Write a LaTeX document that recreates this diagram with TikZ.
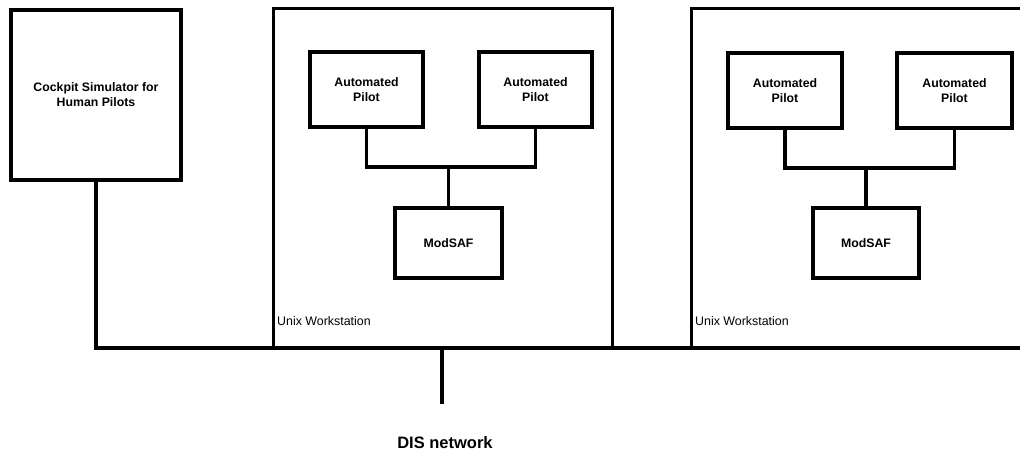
\documentclass[tikz,border=0pt]{standalone}
\usepackage{fontspec}
\setmainfont{Liberation Sans}
\begin{document}
\begin{tikzpicture}[x=1pt,y=-1pt,
  unit/.style={draw,line width=3.2pt,rectangle,inner sep=0pt,align=center,
    font=\bfseries\fontsize{12.3}{15}\selectfont},
  station/.style={draw,line width=3pt,rectangle,inner sep=0pt},
  wire/.style={line width=3.2pt},
  bus/.style={line width=3.8pt},
  caption/.style={inner sep=0pt,anchor=base west,font=\fontsize{12.4}{14}\selectfont}]
\useasboundingbox (0,0) rectangle (1020,452);
\clip (0,0) rectangle (1020,452);

% cockpit simulator
\node[unit,minimum width=170pt,minimum height=170pt] (cockpit) at (96,95)
  {Cockpit Simulator for\\Human Pilots};

% first workstation
\node[station,minimum width=339pt,minimum height=339pt] (ws1) at (442.5,178.5) {};
\node[unit,minimum width=113pt,minimum height=75pt] (ap1) at (366.5,89.5) {Automated\\Pilot};
\node[unit,minimum width=113pt,minimum height=75pt] (ap2) at (535.5,89.5) {Automated\\Pilot};
\node[unit,minimum width=107pt,minimum height=70pt] (saf1) at (448.5,243) {ModSAF};
\coordinate (j1) at (448.5,167);
\draw[wire] (ap1.south) |- (j1) -| (ap2.south);
\draw[wire] (j1) -- (saf1.north);
\node[caption] (lab1) at (277,325) {Unix Workstation};

% second workstation (runs past the right edge)
\node[station,minimum width=349pt,minimum height=339pt] (ws2) at (865.5,178.5) {};
\node[unit,minimum width=114pt,minimum height=75pt] (ap3) at (785,90.5) {Automated\\Pilot};
\node[unit,minimum width=115pt,minimum height=75pt] (ap4) at (954.5,90.5) {Automated\\Pilot};
\node[unit,minimum width=106pt,minimum height=70pt] (saf2) at (866,243) {ModSAF};
\coordinate (j2) at (866,168);
\draw[wire] (ap3.south) |- (j2) -| (ap4.south);
\draw[wire] (j2) -- (saf2.north);
\node[caption] (lab2) at (695,325) {Unix Workstation};

% DIS network bus, fed from the cockpit simulator
\coordinate (busR) at (1030,348);
\coordinate (tap) at (442,348);
\coordinate (tapEnd) at (442,404);
\draw[bus] (cockpit.south) |- (busR);
\draw[wire] (tap) -- (tapEnd);
\node[font=\bfseries\fontsize{16.5}{18}\selectfont,inner sep=0pt] (dis) at (445,443) {DIS network};
\end{tikzpicture}
\end{document}
